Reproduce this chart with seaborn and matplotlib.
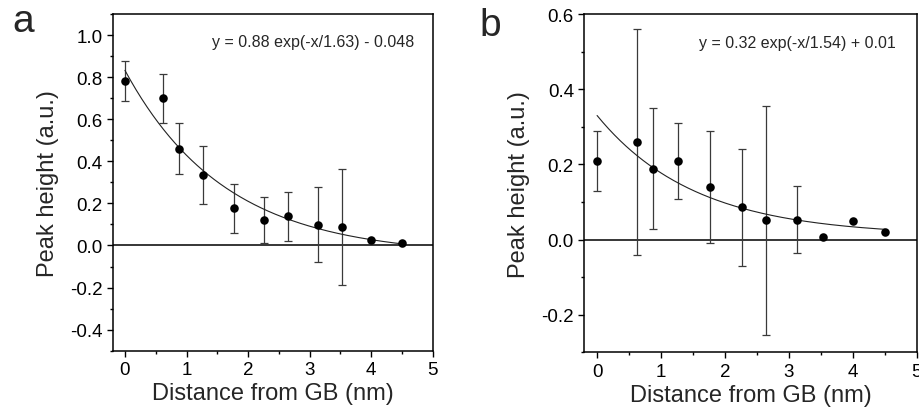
import numpy as np
import pandas as pd
import seaborn as sns
import matplotlib.pyplot as plt
from matplotlib.ticker import MultipleLocator

# --- data ---
dist = [0.0, 0.62, 0.88, 1.26, 1.77, 2.26, 2.65, 3.13, 3.53, 4.0, 4.5]

peak_a = [0.78, 0.70, 0.46, 0.335, 0.176, 0.122, 0.138, 0.098, 0.089, 0.025, 0.011]
err_a = [0.095, 0.117, 0.122, 0.138, 0.115, 0.108, 0.118, 0.178, 0.275, 0.0, 0.0]

peak_b = [0.209, 0.26, 0.189, 0.209, 0.14, 0.086, 0.051, 0.053, 0.008, 0.049, 0.019]
err_b = [0.08, 0.30, 0.16, 0.10, 0.148, 0.156, 0.305, 0.09, 0.0, 0.0, 0.0]

# exponential fit parameters (amplitude, decay length, offset)
fit_a = (0.88, 1.63, -0.048)
fit_b = (0.32, 1.54, 0.01)
eq_a = "y = 0.88 exp(-x/1.63) - 0.048"
eq_b = "y = 0.32 exp(-x/1.54) + 0.01"

sns.set_theme(style="ticks")
plt.rcParams["font.family"] = ["Liberation Sans", "DejaVu Sans"]
plt.rcParams["axes.linewidth"] = 1.1
plt.rcParams["xtick.major.width"] = 1.0
plt.rcParams["ytick.major.width"] = 1.0
plt.rcParams["xtick.minor.width"] = 1.0
plt.rcParams["ytick.minor.width"] = 1.0
plt.rcParams["xtick.major.size"] = 4
plt.rcParams["ytick.major.size"] = 4
plt.rcParams["xtick.minor.size"] = 2.2
plt.rcParams["ytick.minor.size"] = 2.2
plt.rcParams["xtick.color"] = "black"
plt.rcParams["ytick.color"] = "black"
plt.rcParams["axes.edgecolor"] = "black"

fig = plt.figure(figsize=(9.19, 4.14), dpi=100)
ax_a = fig.add_axes([0.1226, 0.1505, 0.3482, 0.8133])
ax_b = fig.add_axes([0.6358, 0.1466, 0.3617, 0.8171])


def draw_panel(ax, y, err, fit, eq, ylim, eq_pos):
    df = pd.DataFrame({"x": dist, "y": y, "err": err})
    bars = df[df["err"] > 0]
    ax.errorbar(bars["x"], bars["y"], yerr=bars["err"], fmt="none",
                ecolor="#3a3a3a", elinewidth=0.9, capsize=2.6, capthick=0.9, zorder=2)
    xs = np.linspace(dist[0], dist[-1], 200)
    fit_df = pd.DataFrame({"x": xs, "y": fit[0] * np.exp(-xs / fit[1]) + fit[2]})
    sns.lineplot(data=fit_df, x="x", y="y", ax=ax, color="#222222", lw=0.8, zorder=3)
    sns.scatterplot(data=df, x="x", y="y", ax=ax, color="black", s=38,
                    edgecolor="black", linewidth=0, zorder=4)
    ax.axhline(0, color="black", lw=1.1, zorder=1)
    ax.set_xlim(-0.2, 5)
    ax.set_ylim(*ylim)
    ax.xaxis.set_major_locator(MultipleLocator(1))
    ax.xaxis.set_minor_locator(MultipleLocator(0.5))
    ax.yaxis.set_major_locator(MultipleLocator(0.2))
    ax.yaxis.set_minor_locator(MultipleLocator(0.1))
    ax.tick_params(which="both", direction="out", labelsize=13.5, top=False, right=False)
    ax.set_xlabel("Distance from GB (nm)", fontsize=17, labelpad=3)
    ax.set_ylabel("Peak height (a.u.)", fontsize=17, labelpad=8)
    ax.yaxis.set_major_formatter(plt.FuncFormatter(lambda v, p: f"{v:.1f}"))
    ax.text(eq_pos[0], eq_pos[1], eq, transform=ax.transAxes, fontsize=11.5,
            ha="left", va="center")
    for s in ax.spines.values():
        s.set_visible(True)


draw_panel(ax_a, peak_a, err_a, fit_a, eq_a, (-0.5, 1.1), (0.309, 0.917))
draw_panel(ax_b, peak_b, err_b, fit_b, eq_b, (-0.3, 0.6), (0.346, 0.916))

fig.text(12 / 919, 1 - 32 / 414, "a", fontsize=28, ha="left", va="baseline")
fig.text(479 / 919, 1 - 36 / 414, "b", fontsize=28, ha="left", va="baseline")

fig.savefig("out.png", dpi=100)
